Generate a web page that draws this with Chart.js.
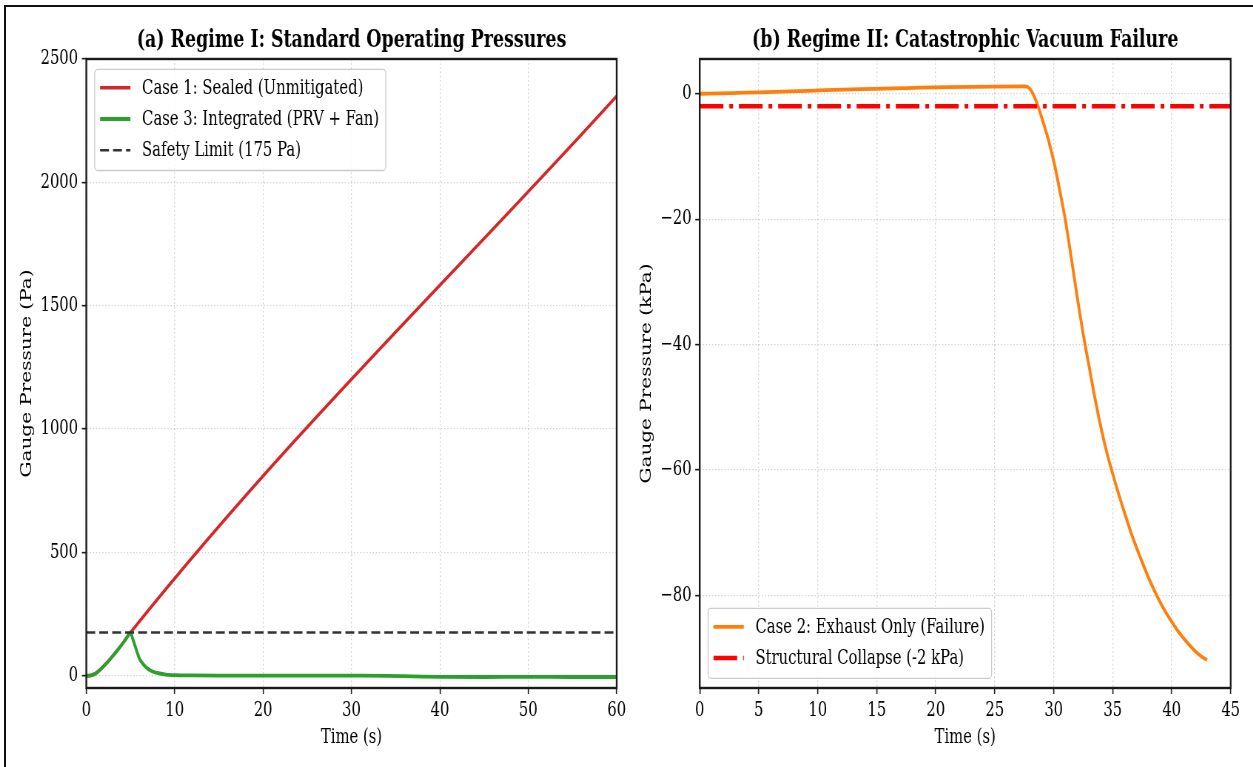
<!DOCTYPE html>
<html>
<head>
<meta charset="utf-8">
<script src="https://cdn.jsdelivr.net/npm/chart.js@4.4.1/dist/chart.umd.min.js"></script>
<style>
  html, body { margin: 0; padding: 0; background: #fff; }
  #fig { position: relative; width: 1253px; height: 767px; overflow: hidden; background: #fff; }
  #frame { position: absolute; left: 4px; top: 5px; right: -10px; bottom: -10px;
           border-top: 2px solid #111; border-left: 2px solid #111; }
  canvas { position: absolute; top: 0; }
</style>
</head>
<body>
<div id="fig">
  <div id="frame"></div>
  <canvas id="left"></canvas>
  <canvas id="right"></canvas>
</div>
<script>
// the original figure is squeezed sideways, so each canvas is drawn wider and shown narrower
const SQUEEZE = 0.74;
const FONT = 'DejaVu Serif';

// (a) Regime I, gauge pressure in Pa
const sealedTime = [0, 0.5, 1, 1.5, 2, 2.5, 3, 3.5, 4, 4.5, 5, 60];
const sealedPa = [0, 1, 8, 22, 40, 59, 80, 102, 125, 150, 175, 2350];
const integratedTime = [0, 0.5, 1, 1.5, 2, 2.5, 3, 3.5, 4, 4.5, 5, 5.25, 5.5, 6, 6.5, 7, 7.5, 8, 9, 10,
                        12, 15, 20, 25, 30, 34, 36, 38, 40, 45, 50, 55, 60];
const integratedPa = [0, 1, 8, 22, 40, 59, 80, 102, 125, 150, 175, 150, 122, 70, 44, 27, 17, 11, 4.5, 2,
                      1, 0.5, 0.5, 0.5, 0, -0.5, -2, -4, -5, -5.5, -5, -5.5, -5.5];
const limitTime = [0, 60];
const limitPa = [175, 175];
const leftXTicks = [0, 10, 20, 30, 40, 50, 60];
const leftYTicks = [0, 500, 1000, 1500, 2000, 2500];

// (b) Regime II, gauge pressure in kPa
const exhaustTime = [0, 27.6, 28, 28.5, 29, 29.5, 30, 30.5, 31, 31.5, 32, 32.5, 33, 33.5, 34, 34.5, 35,
                     35.5, 36, 36.5, 37, 37.5, 38, 38.5, 39, 39.5, 40, 40.5, 41, 41.5, 42, 42.5, 43];
const exhaustKPa = [0, 1.16, 0.75, -1.1, -3.9, -7.0, -10.7, -15.3, -20.3, -26.3, -32.5, -38.3, -43.5,
                    -48.6, -53.2, -57.2, -60.6, -63.8, -66.8, -69.7, -72.3, -74.7, -77, -79.1, -81,
                    -82.7, -84.2, -85.6, -86.8, -87.9, -88.9, -89.7, -90.3];
const collapseTime = [0, 45];
const collapseKPa = [-2, -2];
const rightXTicks = [0, 5, 10, 15, 20, 25, 30, 35, 40, 45];
const rightYTicks = [0, -20, -40, -60, -80];

function pts(xs, ys) {
  return xs.map((x, i) => ({ x: x, y: ys[i] }));
}

function fmt(v) {
  return v < 0 ? '\u2212' + Math.abs(v) : String(v);
}

Chart.defaults.font.family = FONT;
Chart.defaults.font.size = 20;
Chart.defaults.color = '#000';

// black box round the plot area (drawn over the lines, like matplotlib spines)
const framePlugin = {
  id: 'frame',
  afterDatasetsDraw(chart) {
    const ctx = chart.ctx, a = chart.chartArea;
    ctx.save();
    ctx.strokeStyle = '#1a1a1a';
    ctx.lineWidth = 2.4;
    ctx.strokeRect(a.left, a.top, a.right - a.left, a.bottom - a.top);
    ctx.restore();
  }
};

// title centred on the plot area
const titlePlugin = {
  id: 'axTitle',
  afterDraw(chart, args, opts) {
    const ctx = chart.ctx, a = chart.chartArea;
    ctx.save();
    ctx.font = 'bold 23.5px "' + FONT + '"';
    ctx.fillStyle = '#000';
    ctx.textAlign = 'center';
    ctx.textBaseline = 'middle';
    ctx.fillText(opts.text, (a.left + a.right) / 2, 41);
    ctx.restore();
  }
};

// matplotlib-like legend box inside the plot
const boxLegend = {
  id: 'boxLegend',
  afterDraw(chart, args, opts) {
    const ctx = chart.ctx, a = chart.chartArea;
    const sets = chart.data.datasets;
    ctx.save();
    ctx.font = '20px "' + FONT + '"';
    const textW = Math.max(...sets.map(d => ctx.measureText(d.label).width));
    const w = 64 + textW + 9;
    const h = 18.5 + (sets.length - 1) * 31.2 + 20.3;
    const x = a.left + 11.3;
    const y = opts.corner === 'bl' ? a.bottom - 9.7 - h : a.top + 10.3;
    ctx.beginPath();
    ctx.roundRect(x, y, w, h, 4);
    ctx.fillStyle = 'rgba(255,255,255,0.8)';
    ctx.fill();
    ctx.strokeStyle = '#cccccc';
    ctx.lineWidth = 1.3;
    ctx.stroke();
    sets.forEach((d, i) => {
      const cy = y + 18.5 + i * 31.2;
      ctx.beginPath();
      ctx.setLineDash(d.borderDash || []);
      ctx.strokeStyle = d.borderColor;
      ctx.lineWidth = d.borderWidth;
      ctx.moveTo(x + 7.3, cy);
      ctx.lineTo(x + 48.3, cy);
      ctx.stroke();
      ctx.setLineDash([]);
      ctx.fillStyle = '#000';
      ctx.textBaseline = 'middle';
      ctx.fillText(d.label, x + 64, cy + 1);
    });
    ctx.restore();
  }
};

const gridStyle = {
  color: 'rgba(176,176,176,0.6)',
  lineWidth: 1.3,
  drawTicks: true,
  tickLength: 6,
  tickColor: '#1a1a1a',
  tickWidth: 1.6,
  tickBorderDash: []
};
// in Chart.js v4 the grid line dash lives under border
const borderStyle = { display: false, dash: [1.6, 2.6] };

function makeChart(id, cssLeft, cssWidth, p) {
  const canvas = document.getElementById(id);
  const ratio = 1 / SQUEEZE;
  canvas.width = Math.round(cssWidth * ratio);
  canvas.height = 767;
  canvas.style.left = cssLeft + 'px';
  canvas.style.width = cssWidth + 'px';
  canvas.style.height = '767px';
  const r = canvas.width / cssWidth;
  const plotLeft = (p.plotLeft - cssLeft) * r;
  const plotRight = (p.plotRight - cssLeft) * r;
  const yTitleCentre = (p.yTitleX - cssLeft) * r;

  return new Chart(canvas, {
    type: 'line',
    data: { datasets: p.datasets },
    plugins: [framePlugin, titlePlugin, boxLegend],
    options: {
      responsive: false,
      animation: false,
      devicePixelRatio: 1,
      layout: { padding: { left: 0, top: 59, right: canvas.width - plotRight, bottom: 0 } },
      plugins: {
        legend: { display: false },
        title: { display: false },
        tooltip: { enabled: false },
        axTitle: { text: p.title },
        boxLegend: { corner: p.legendCorner }
      },
      elements: { point: { radius: 0 } },
      scales: {
        x: {
          type: 'linear',
          min: p.xMin,
          max: p.xMax,
          border: borderStyle,
          grid: gridStyle,
          ticks: { padding: 5, maxRotation: 0, callback: fmt },
          afterBuildTicks: s => { s.ticks = p.xTicks.map(v => ({ value: v })); },
          afterFit: s => { s.height = 79; },
          title: { display: true, text: 'Time (s)', padding: { top: 0, bottom: 17 } }
        },
        y: {
          type: 'linear',
          min: p.yMin,
          max: p.yMax,
          border: borderStyle,
          grid: gridStyle,
          ticks: { padding: 5, callback: fmt },
          afterBuildTicks: s => { s.ticks = p.yTicks.map(v => ({ value: v })); },
          afterFit: s => { s.width = plotLeft; },
          title: { display: true, text: p.yTitle, padding: { top: yTitleCentre - 12, bottom: 0 } }
        }
      }
    }
  });
}

makeChart('left', 0, 633, {
  plotLeft: 86.3, plotRight: 616.7, yTitleX: 27,
  title: '(a) Regime I: Standard Operating Pressures',
  yTitle: 'Gauge Pressure (Pa)',
  legendCorner: 'tl',
  xMin: 0, xMax: 60, yMin: -50, yMax: 2500,
  xTicks: leftXTicks, yTicks: leftYTicks,
  datasets: [
    { label: 'Case 1: Sealed (Unmitigated)', data: pts(sealedTime, sealedPa),
      borderColor: '#d62728', borderWidth: 3.5, cubicInterpolationMode: 'monotone', order: 3 },
    { label: 'Case 3: Integrated (PRV + Fan)', data: pts(integratedTime, integratedPa),
      borderColor: '#2ca02c', borderWidth: 3.8, cubicInterpolationMode: 'monotone', order: 2 },
    { label: 'Safety Limit (175 Pa)', data: pts(limitTime, limitPa),
      borderColor: '#333333', borderWidth: 2.5, borderDash: [12, 5.5], order: 1 }
  ]
});

makeChart('right', 633, 620, {
  plotLeft: 699.7, plotRight: 1230.7, yTitleX: 646.7,
  title: '(b) Regime II: Catastrophic Vacuum Failure',
  yTitle: 'Gauge Pressure (kPa)',
  legendCorner: 'bl',
  xMin: 0, xMax: 45, yMin: -94.75, yMax: 5.54,
  xTicks: rightXTicks, yTicks: rightYTicks,
  datasets: [
    { label: 'Case 2: Exhaust Only (Failure)', data: pts(exhaustTime, exhaustKPa),
      borderColor: '#ff7f0e', borderWidth: 3.8, cubicInterpolationMode: 'monotone', order: 2 },
    { label: 'Structural Collapse (-2 kPa)', data: pts(collapseTime, collapseKPa),
      borderColor: '#ff0000', borderWidth: 4.5, borderDash: [32, 8, 5, 8], order: 1 }
  ]
});
</script>
</body>
</html>
